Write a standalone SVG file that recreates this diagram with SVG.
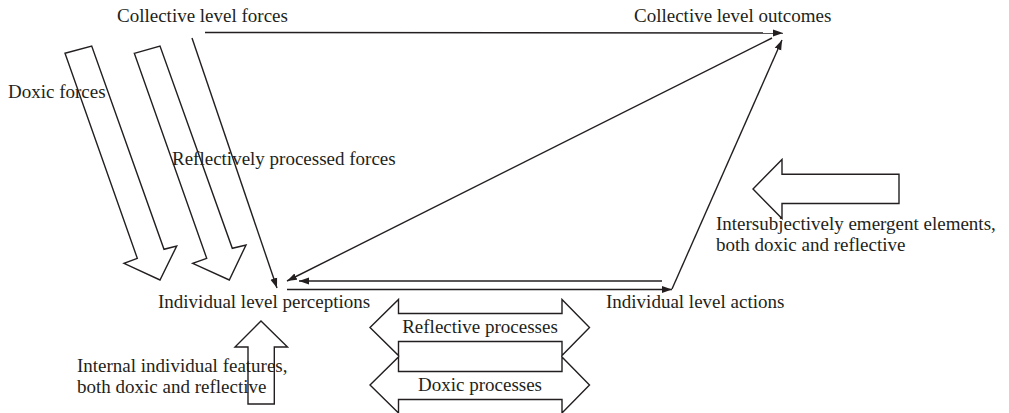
<svg xmlns="http://www.w3.org/2000/svg" width="1009" height="413" viewBox="0 0 1009 413">
  <style>
    .lbl { font-family: "Liberation Serif", "Times New Roman", serif; font-size: 19px; fill: #231f20; }
    .mid { text-anchor: middle; }
    .conn { stroke: #231f20; stroke-width: 1.4; fill: none; }
    .block { stroke: #231f20; stroke-width: 1.4; fill: none; stroke-linejoin: miter; }
  </style>
  <defs>
    <marker id="head" markerUnits="userSpaceOnUse" markerWidth="11" markerHeight="8" refX="10" refY="4" orient="auto">
      <path d="M0,0.5 L10,4 L0,7.5 z" fill="#231f20"/>
    </marker>
  </defs>

  <rect width="1009" height="413" fill="#ffffff"/>

  <!-- Level nodes -->
  <g id="collective-forces"><text class="lbl" x="117" y="22">Collective level forces</text></g>
  <g id="collective-outcomes"><text class="lbl" x="634" y="22">Collective level outcomes</text></g>
  <g id="individual-perceptions"><text class="lbl" x="158" y="308">Individual level perceptions</text></g>
  <g id="individual-actions"><text class="lbl" x="606" y="308">Individual level actions</text></g>

  <!-- Connectors between levels -->
  <g id="connectors">
    <line class="conn" x1="205" y1="32.5" x2="783" y2="33" marker-end="url(#head)"/>
    <line class="conn" x1="192" y1="38" x2="277" y2="288" marker-end="url(#head)"/>
    <line class="conn" x1="772" y1="38" x2="287" y2="281" marker-end="url(#head)"/>
    <line class="conn" x1="662" y1="281" x2="299" y2="281" marker-end="url(#head)"/>
    <line class="conn" x1="287" y1="289.5" x2="672" y2="289.5" marker-end="url(#head)"/>
    <line class="conn" x1="672" y1="289" x2="782" y2="40" marker-end="url(#head)"/>
  </g>

  <!-- Doxic forces (block arrow) -->
  <g id="doxic-forces">
    <polygon class="block" points="65,53.3 91.7,46 164,249.3 176.7,246 160,280 124,263.3 137.3,258.3"/>
    <text class="lbl" x="8" y="98">Doxic forces</text>
  </g>

  <!-- Reflectively processed forces (block arrow) -->
  <g id="reflective-forces">
    <polygon class="block" points="134.3,53.3 160,46 232.3,248.3 246,245 229.3,280 192.7,263.3 206.7,258.3"/>
    <text class="lbl" x="172" y="165">Reflectively processed forces</text>
  </g>

  <!-- Intersubjectively emergent elements (block arrow pointing left) -->
  <g id="intersubjective">
    <polygon class="block" points="899,174.3 782,174.3 782,159.5 753,189 782,218.5 782,203.5 899,203.5"/>
    <text class="lbl" x="716" y="230">Intersubjectively emergent elements,</text>
    <text class="lbl" x="716" y="251">both doxic and reflective</text>
  </g>

  <!-- Internal individual features (block arrow pointing up) -->
  <g id="internal-features">
    <polygon class="block" points="248,404 248,347 235,347 261,321 287.5,347 274.3,347 274.3,404"/>
    <text class="lbl" x="77" y="372">Internal individual features,</text>
    <text class="lbl" x="77" y="393">both doxic and reflective</text>
  </g>

  <!-- Reflective processes (double-headed block arrow) -->
  <g id="reflective-processes">
    <polygon class="block" points="398.5,313.5 398.5,299.5 370,327.5 398.5,355.5 398.5,341.5 562,341.5 562,355.5 589.5,327.5 562,299.5 562,313.5"/>
    <text class="lbl mid" x="480" y="333">Reflective processes</text>
  </g>

  <!-- Doxic processes (double-headed block arrow) -->
  <g id="doxic-processes">
    <polygon class="block" points="398.5,371.5 398.5,357 370,385 398.5,413 398.5,399.5 562,399.5 562,413 589.5,385 562,357 562,371.5"/>
    <text class="lbl mid" x="480" y="391">Doxic processes</text>
  </g>
</svg>
